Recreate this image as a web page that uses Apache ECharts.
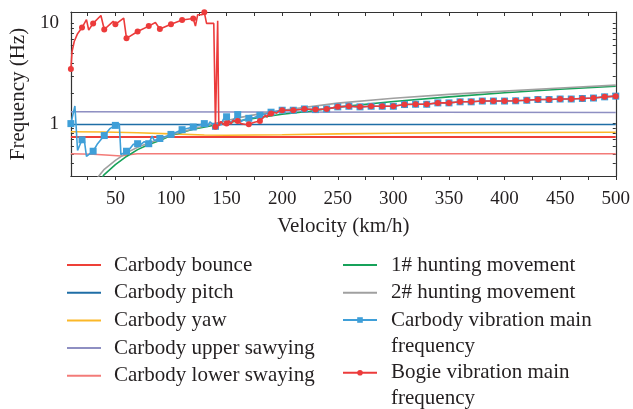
<!DOCTYPE html>
<html><head><meta charset="utf-8">
<script src="https://cdn.jsdelivr.net/npm/echarts@6/dist/echarts.min.js"></script>
<style>html,body{margin:0;padding:0;background:#fff}#c{width:633px;height:409px}</style>
</head><body><div id="c"></div>
<script>
const FONT = 'Liberation Serif';
const TXT = '#231f20';

// ---- tick labels ----
const xLabelValues = [50, 100, 150, 200, 250, 300, 350, 400, 450, 500];
const xTickValues = [25, 50, 75, 100, 125, 150, 175, 200, 225, 250, 275, 300, 325, 350, 375, 400, 425, 450, 475, 500];
const yLabelValues = [1, 10];
const yTickValues = [0.3, 0.4, 0.5, 0.6, 0.7, 0.8, 0.9, 1, 2, 3, 4, 5, 6, 7, 8, 9, 10];

// ---- series names ----
const names = ['Carbody bounce', 'Carbody pitch', 'Carbody yaw', 'Carbody upper sawying', 'Carbody lower swaying',
  '1# hunting movement', '2# hunting movement', 'Carbody vibration main\nfrequency', 'Bogie vibration main\nfrequency'];

// ---- series values ----
const bounceV = [10, 500];
const bounceF = [0.735, 0.735];
const pitchV = [10, 500];
const pitchF = [0.98, 0.98];
const yawV = [10, 40, 70, 100, 130, 150, 200, 250, 300, 350, 400, 500];
const yawF = [0.83, 0.825, 0.81, 0.79, 0.77, 0.765, 0.775, 0.79, 0.80, 0.81, 0.815, 0.82];
const upperV = [10, 500];
const upperF = [1.31, 1.29];
const lowerV = [10, 30, 45, 55, 62, 70, 100, 500];
const lowerF = [0.50, 0.495, 0.483, 0.475, 0.49, 0.50, 0.50, 0.50];
const hunt1V = [36, 40, 50, 60, 70, 80, 90, 100, 120, 140, 160, 180, 200, 225, 250, 300, 350, 400, 450, 500];
const hunt1F = [0.27, 0.31, 0.39, 0.47, 0.55, 0.62, 0.68, 0.76, 0.88, 0.97, 1.06, 1.15, 1.24, 1.33, 1.46, 1.66, 1.85, 2.03, 2.20, 2.36];
const hunt2V = [33, 40, 50, 60, 70, 80, 90, 100, 120, 140, 160, 180, 200, 250, 300, 350, 400, 450, 500];
const hunt2F = [0.28, 0.35, 0.43, 0.51, 0.58, 0.64, 0.70, 0.77, 0.89, 1.01, 1.14, 1.25, 1.36, 1.60, 1.79, 1.96, 2.11, 2.27, 2.42];
const carbodyV = [10, 13.6, 16, 20, 22, 24, 30, 34, 40, 45, 50, 53.5, 55, 60, 63, 66, 70, 73, 76, 80, 83, 85, 90, 100, 110, 120, 130,
  133, 135, 140, 142, 145, 147, 150, 153, 156, 160, 163, 166, 170, 175, 180, 185, 190, 200,
  210, 220, 230, 240, 250, 260, 270, 280, 290, 300, 310, 320, 330, 340, 350, 360, 370, 380, 390, 400,
  410, 420, 430, 440, 450, 460, 470, 480, 490, 500];
const carbodyF = [1.0, 1.5, 0.54, 0.69, 0.69, 0.47, 0.53, 0.63, 0.76, 0.89, 0.96, 1.0, 0.49, 0.53, 0.56, 0.62, 0.63, 0.62, 0.66, 0.63, 0.75, 0.68, 0.71, 0.78, 0.87, 0.925, 1.0,
  0.94, 1.04, 0.94, 1.0, 0.97, 1.1, 1.17, 1.02, 1.08, 1.23, 1.05, 1.1, 1.13, 1.15, 1.21, 1.25, 1.3, 1.36,
  1.36, 1.40, 1.38, 1.40, 1.47, 1.49, 1.47, 1.49, 1.49, 1.49, 1.55, 1.56, 1.56, 1.61, 1.61, 1.65, 1.65, 1.68, 1.68, 1.68,
  1.69, 1.71, 1.74, 1.74, 1.76, 1.76, 1.78, 1.80, 1.85, 1.88];
const bogieV = [10, 11, 13, 16, 20, 24, 26, 30, 37, 40, 48, 50, 57.5, 60, 70, 80, 86, 90, 100, 110, 120, 122, 124, 128, 130, 131, 132, 138.5, 140, 142, 143,
  145, 147, 150, 152, 154, 156, 158, 160, 163, 167, 170, 175, 180, 183, 185, 186.5, 188, 189, 190, 193, 195, 197, 200,
  210, 220, 230, 240, 250, 260, 270, 280, 290, 300, 310, 320, 330, 340, 350, 360, 370, 380, 390, 400,
  410, 420, 430, 440, 450, 460, 470, 480, 490, 500];
const bogieF = [3.5, 5.2, 6.6, 7.9, 9.1, 10.9, 8.6, 10.0, 12.0, 8.7, 10.5, 9.8, 11.3, 7.1, 8.3, 9.4, 10.2, 8.8, 9.8, 10.8, 11.2, 9.4, 12.2, 12.2, 12.9, 12.4, 10.0, 10.0, 0.93, 10.6, 0.95,
  1.05, 0.98, 1.0, 1.07, 0.99, 1.08, 1.05, 1.06, 1.0, 0.98, 0.985, 1.03, 1.06, 1.15, 1.22, 1.16, 1.28, 1.2, 1.26, 1.3, 1.27, 1.33, 1.36,
  1.36, 1.40, 1.38, 1.40, 1.47, 1.49, 1.47, 1.49, 1.49, 1.49, 1.55, 1.56, 1.56, 1.61, 1.61, 1.65, 1.65, 1.68, 1.68, 1.68,
  1.69, 1.71, 1.74, 1.74, 1.76, 1.76, 1.78, 1.80, 1.85, 1.88];

const colors = ['#ee4038', '#1f6ea6', '#fbb829', '#8e8fc2', '#f37b78', '#17a25a', '#a0a0a0', '#3f9fd8', '#ec3b3b'];

const pairs = (v, f) => v.map((x, i) => [x, f[i]]);
const marked = (v, f, sym) => v.map((x, i) => ({ value: [x, f[i]], symbol: (x % 10 === 0) ? sym : 'none' }));

function plain(i, v, f, w) {
  return { name: names[i], type: 'line', data: pairs(v, f), symbol: 'none', smooth: false,
    lineStyle: { color: colors[i], width: w }, itemStyle: { color: colors[i] }, z: 2 + i };
}

const series = [
  plain(0, bounceV, bounceF, 2),
  plain(1, pitchV, pitchF, 1.5),
  plain(2, yawV, yawF, 1.6),
  plain(3, upperV, upperF, 1.5),
  plain(4, lowerV, lowerF, 1.6),
  plain(5, hunt1V, hunt1F, 1.6),
  plain(6, hunt2V, hunt2F, 1.6),
  { name: names[7], type: 'line', data: marked(carbodyV, carbodyF, 'rect'), symbol: 'rect', symbolSize: 7, showSymbol: true,
    lineStyle: { color: colors[7], width: 1.6 }, itemStyle: { color: colors[7] }, z: 10 },
  { name: names[8], type: 'line', data: marked(bogieV, bogieF, 'circle'), symbol: 'circle', symbolSize: 6, showSymbol: true,
    lineStyle: { color: colors[8], width: 1.6 }, itemStyle: { color: colors[8] }, z: 11 }
];

const legendText = { fontFamily: FONT, fontSize: 21, lineHeight: 26, color: TXT };
const hideSym = n => ({ name: n, itemStyle: { opacity: 0 } });

const option = {
  animation: false,
  backgroundColor: '#ffffff',
  grid: { left: 66, right: 15, top: 12, bottom: 233, containLabel: false },
  xAxis: [
    { type: 'value', min: 10, max: 500, position: 'bottom',
      axisLine: { show: true, onZero: false, lineStyle: { color: '#333', width: 1.2 } },
      axisTick: { show: true, inside: false, length: 4, customValues: xTickValues, lineStyle: { color: '#333' } },
      axisLabel: { customValues: xLabelValues, margin: 14, fontFamily: FONT, fontSize: 19, color: TXT },
      splitLine: { show: false },
      name: 'Velocity (km/h)', nameLocation: 'middle', nameGap: 40,
      nameTextStyle: { fontFamily: FONT, fontSize: 21, color: TXT } },
    { type: 'value', min: 10, max: 500, position: 'top',
      axisLine: { show: true, onZero: false, lineStyle: { color: '#333', width: 1.2 } },
      axisTick: { show: true, inside: true, length: 4, customValues: xTickValues, lineStyle: { color: '#333' } },
      axisLabel: { show: false }, splitLine: { show: false } }
  ],
  yAxis: [
    { type: 'log', logBase: 10, min: 0.3, max: 13, position: 'left',
      axisLine: { show: true, onZero: false, lineStyle: { color: '#333', width: 1.2 } },
      axisTick: { show: true, inside: true, length: 3, customValues: yTickValues, lineStyle: { color: '#333' } },
      axisLabel: { customValues: yLabelValues, margin: 12, fontFamily: FONT, fontSize: 19, color: TXT,
        formatter: v => String(v) },
      splitLine: { show: false }, minorTick: { show: false },
      name: 'Frequency (Hz)', nameLocation: 'middle', nameGap: 37, nameRotate: 90,
      nameTextStyle: { fontFamily: FONT, fontSize: 21, color: TXT } },
    { type: 'log', logBase: 10, min: 0.3, max: 13, position: 'right',
      axisLine: { show: true, onZero: false, lineStyle: { color: '#333', width: 1.2 } },
      axisTick: { show: true, inside: true, length: 3, customValues: yTickValues, lineStyle: { color: '#333' } },
      axisLabel: { show: false }, splitLine: { show: false } }
  ],
  legend: [
    { orient: 'vertical', left: 66, top: 252, padding: 0, itemWidth: 34, itemHeight: 14, itemGap: 1.7,
      textStyle: Object.assign({}, legendText, { padding: [0, 0, 0, 8] }),
      data: names.slice(0, 5).map(hideSym) },
    { orient: 'vertical', left: 342, top: 252, padding: 0, itemWidth: 34, itemHeight: 14, itemGap: 1.7,
      textStyle: Object.assign({}, legendText, { padding: [0, 0, 0, 9] }),
      data: names.slice(5, 7).map(hideSym) },
    { orient: 'vertical', left: 342, top: 281, padding: 0, itemWidth: 34, itemHeight: 7, itemGap: 0,
      textStyle: Object.assign({}, legendText, { padding: [0, 0, 0, 9] }),
      formatter: n => '\n' + n,
      data: [names[7]] },
    { orient: 'vertical', left: 342, top: 333.7, padding: 0, itemWidth: 34, itemHeight: 7, itemGap: 0,
      textStyle: Object.assign({}, legendText, { padding: [0, 0, 0, 9] }),
      formatter: n => '\n' + n,
      data: [names[8]] }
  ],
  series: series
};

const chart = echarts.init(document.getElementById('c'), null, { renderer: 'canvas' });
chart.setOption(option);
</script>
</body></html>
